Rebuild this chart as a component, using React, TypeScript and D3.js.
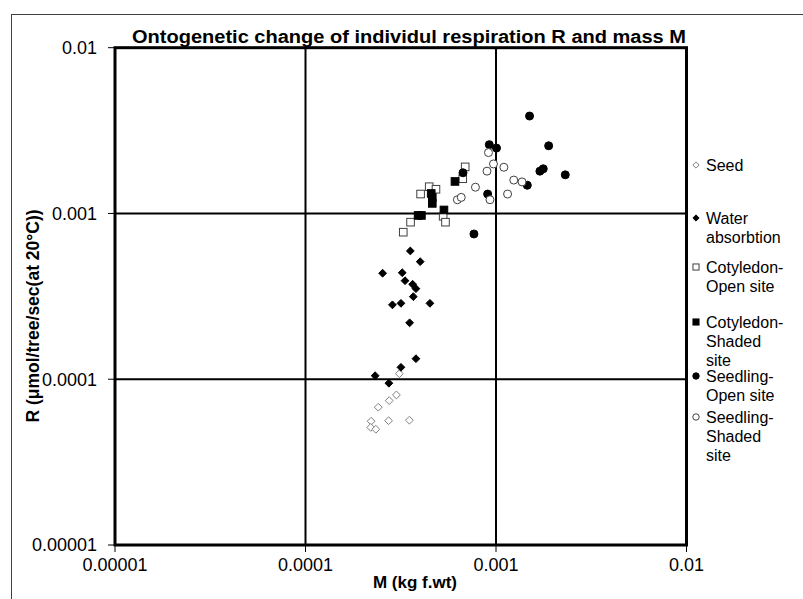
import React from "react";
import * as d3 from "d3";

// ---- data (M in kg f.wt, R in µmol/tree/sec at 20°C) ----
const seedM = [0.000311, 0.0003, 0.000275, 0.000241, 0.000221, 0.000273, 0.000351, 0.00022, 0.000234];
const seedR = [0.000108, 0.0000804, 0.0000743, 0.0000678, 0.0000558, 0.0000562, 0.0000566, 0.0000512, 0.0000499];

const waterM = [0.000355, 0.0004, 0.000254, 0.000322, 0.000333, 0.000365, 0.00038, 0.000368, 0.000286, 0.000317, 0.00045, 0.000352, 0.00038, 0.000317, 0.000232, 0.000274];
const waterR = [0.000594, 0.000512, 0.000436, 0.000439, 0.000393, 0.000374, 0.000352, 0.000315, 0.000281, 0.000287, 0.000287, 0.000219, 0.000133, 0.000118, 0.000105, 0.0000946];

const cotOpenM = [0.000689, 0.000669, 0.000446, 0.000484, 0.000402, 0.000356, 0.000326, 0.000528, 0.000543];
const cotOpenR = [0.00191, 0.00162, 0.00145, 0.0014, 0.00131, 0.000886, 0.000771, 0.000962, 0.000886];

const cotShadeM = [0.000609, 0.000457, 0.000463, 0.000463, 0.00039, 0.000406, 0.000533];
const cotShadeR = [0.00156, 0.00132, 0.00125, 0.00115, 0.000973, 0.000973, 0.00105];

const seedlOpenM = [0.0015, 0.000922, 0.001006, 0.00189, 0.000671, 0.00177, 0.0017, 0.00231, 0.00146, 0.000904, 0.000766];
const seedlOpenR = [0.00387, 0.0026, 0.00248, 0.00256, 0.00176, 0.00186, 0.0018, 0.00171, 0.00148, 0.00131, 0.000752];

const seedlShadeM = [0.000913, 0.00097, 0.000897, 0.0011, 0.00124, 0.00137, 0.00078, 0.00115, 0.00093, 0.000627, 0.000657];
const seedlShadeR = [0.00233, 0.00199, 0.0018, 0.0019, 0.00159, 0.00155, 0.00144, 0.00131, 0.00121, 0.00121, 0.00125];

const tickValues = [0.00001, 0.0001, 0.001, 0.01];
const tickLabels = ["0.00001", "0.0001", "0.001", "0.01"];

const seriesNames = [
  ["Seed"],
  ["Water", "absorbtion"],
  ["Cotyledon-", "Open site"],
  ["Cotyledon-", "Shaded", "site"],
  ["Seedling-", "Open site"],
  ["Seedling-", "Shaded", "site"],
];

const title = "Ontogenetic change of individul respiration R and mass M";
const xTitle = "M (kg f.wt)";
const yTitle = "R (\u03bcmol/tree/sec(at 20\u00b0C))";

// ---- layout ----
const W = 803, H = 599;
const PL = 115, PR = 686.5, PT = 47.7, PB = 545;
const FONT = "'Liberation Sans', Arial, Helvetica, sans-serif";
const legendY = [165, 218, 267, 322, 376, 417];
const legendLine = 19;

type Shape = "diamond" | "square" | "circle";
const styles: { shape: Shape; fill: string; stroke: string }[] = [
  { shape: "diamond", fill: "#ffffff", stroke: "#808080" },
  { shape: "diamond", fill: "#000000", stroke: "#000000" },
  { shape: "square", fill: "#ffffff", stroke: "#404040" },
  { shape: "square", fill: "#000000", stroke: "#000000" },
  { shape: "circle", fill: "#000000", stroke: "#000000" },
  { shape: "circle", fill: "#ffffff", stroke: "#404040" },
];

function Marker({ x, y, s, k }: { x: number; y: number; s: (typeof styles)[number]; k: number }) {
  if (s.shape === "diamond") {
    const r = 3.9 * k;
    return <path d={`M${x},${y - r}L${x + r},${y}L${x},${y + r}L${x - r},${y}Z`} fill={s.fill} stroke={s.stroke} strokeWidth={1} />;
  }
  if (s.shape === "square") {
    const h = 3.8 * k;
    return <rect x={x - h} y={y - h} width={2 * h} height={2 * h} fill={s.fill} stroke={s.stroke} strokeWidth={1} />;
  }
  return <circle cx={x} cy={y} r={4 * k} fill={s.fill} stroke={s.stroke} strokeWidth={1} />;
}

export default function App() {
  const x = d3.scaleLog().domain([1e-5, 1e-2]).range([PL, PR]);
  const y = d3.scaleLog().domain([1e-5, 1e-2]).range([PB, PT]);

  const series = [
    [seedM, seedR],
    [waterM, waterR],
    [cotOpenM, cotOpenR],
    [cotShadeM, cotShadeR],
    [seedlOpenM, seedlOpenR],
    [seedlShadeM, seedlShadeR],
  ];

  return (
    <svg width={W} height={H} style={{ position: "absolute", left: 0, top: 0, background: "#fff" }} fontFamily={FONT}>
      <rect x={0} y={0} width={W} height={H} fill="#fff" />
      <rect x={11.5} y={14.5} width={W} height={H} fill="none" stroke="#404040" strokeWidth={1} />

      {/* gridlines */}
      {tickValues.slice(1, 3).map((v, i) => (
        <g key={"g" + i}>
          <line x1={x(v)} x2={x(v)} y1={PT} y2={PB} stroke="#000" strokeWidth={2} />
          <line x1={PL} x2={PR} y1={y(v)} y2={y(v)} stroke="#000" strokeWidth={2} />
        </g>
      ))}
      <rect x={PL} y={PT} width={PR - PL} height={PB - PT} fill="none" stroke="#000" strokeWidth={3} />

      {/* ticks & labels */}
      {tickValues.map((v, i) => (
        <g key={"t" + i}>
          <line x1={PL - 7} x2={PL} y1={y(v)} y2={y(v)} stroke="#000" strokeWidth={1} />
          <text x={97} y={y(v)} dy="0.35em" textAnchor="end" fontSize={18}>{tickLabels[i]}</text>
          <line x1={x(v)} x2={x(v)} y1={PB} y2={PB + 7} stroke="#000" strokeWidth={1} />
          <text x={x(v)} y={571} textAnchor="middle" fontSize={18}>{tickLabels[i]}</text>
        </g>
      ))}

      {/* points */}
      {series.map(([ms, rs], si) => (
        <g key={"s" + si}>
          {ms.map((m, j) => (
            <Marker key={j} x={x(m)} y={y(rs[j])} s={styles[si]} k={1} />
          ))}
        </g>
      ))}

      {/* titles */}
      <text x={409} y={43} textAnchor="middle" fontSize={17.5} fontWeight="bold" textLength={554} lengthAdjust="spacingAndGlyphs">{title}</text>
      <text x={415} y={588} textAnchor="middle" fontSize={17} fontWeight="bold">{xTitle}</text>
      <text transform={`translate(39,${316}) rotate(-90)`} textAnchor="middle" fontSize={17.5} fontWeight="bold">{yTitle}</text>

      {/* legend */}
      {seriesNames.map((lines, i) => (
        <g key={"l" + i}>
          <Marker x={696} y={legendY[i]} s={styles[i]} k={0.8} />
          {lines.map((ln, j) => (
            <text key={j} x={706} y={legendY[i] + j * legendLine} dy="0.35em" fontSize={16}>{ln}</text>
          ))}
        </g>
      ))}
    </svg>
  );
}
